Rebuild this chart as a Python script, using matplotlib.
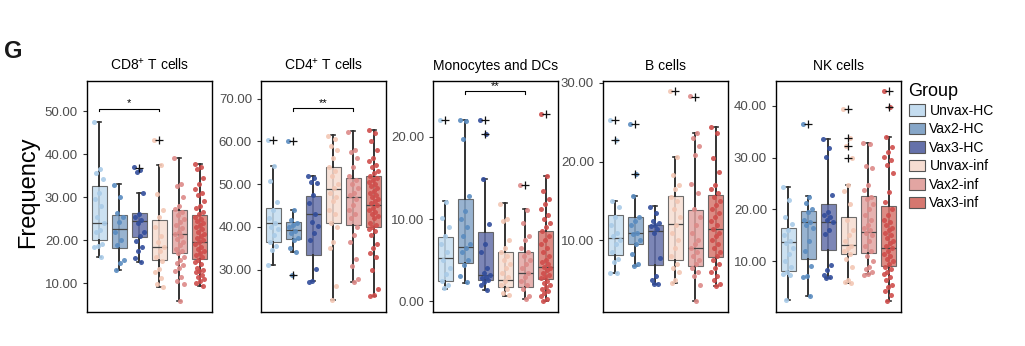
import matplotlib.pyplot as plt
import numpy as np
from matplotlib.patches import Patch

plt.rcParams['font.family'] = ['Liberation Sans', 'DejaVu Sans']

groups = ['Unvax-HC', 'Vax2-HC', 'Vax3-HC', 'Unvax-inf', 'Vax2-inf', 'Vax3-inf']
box_cols = ['#c4dcef', '#86a6c8', '#6571aa', '#f6ddd2', '#e2a5a2', '#d6776f']
dot_cols = ['#a9cbe8', '#5a8cc0', '#324d9b', '#f3c7b4', '#dd8a88', '#cf4d4b']

# box stats per group: (whislo, q1, median, q3, whishi)
cd8_box = [(16.2, 20.1, 24.1, 32.7, 47.5), (13.1, 18.1, 22.5, 25.9, 33.1),
           (15.0, 20.8, 24.4, 26.4, 31.0), (9.2, 15.4, 18.4, 24.7, 37.5),
           (5.9, 16.9, 21.4, 27.0, 39.2), (9.4, 15.7, 19.6, 25.9, 37.8)]
cd8_out = [[], [], [36.8], [43.4], [], []]
cd8_pts = [
    [47.5, 36.6, 35.5, 34.3, 30.9, 29.5, 28.0, 25.5, 24.0, 22.3, 21.8, 19.0, 18.7, 18.5, 16.2],
    [32.8, 30.0, 26.4, 25.5, 24.3, 21.8, 20.1, 18.8, 15.4, 14.8, 13.1],
    [36.9, 36.2, 35.8, 31.0, 26.0, 25.4, 24.8, 24.0, 22.0, 21.0, 19.8, 18.5, 17.5, 15.8, 15.0],
    [43.4, 37.5, 30.7, 27.0, 25.5, 23.0, 21.0, 19.5, 18.5, 17.5, 16.0, 15.2, 13.4, 12.5, 11.1, 9.7, 9.0],
    [39.0, 33.0, 32.5, 30.0, 28.0, 27.3, 26.5, 25.8, 25.0, 24.2, 23.5, 22.8, 22.0, 21.5, 21.0, 20.3,
     19.5, 18.8, 18.0, 17.5, 17.0, 16.2, 15.5, 14.8, 14.3, 13.5, 12.8, 11.5, 10.5, 9.8, 5.9],
    [37.8, 37.0, 36.5, 34.5, 33.0, 32.0, 31.0, 30.5, 29.0, 28.0, 27.5, 26.5, 26.0, 25.5, 25.0, 24.5,
     24.0, 23.5, 23.0, 22.5, 22.0, 21.5, 21.0, 20.5, 20.0, 19.5, 19.0, 18.5, 18.0, 17.5, 17.0, 16.5,
     16.0, 15.5, 15.0, 14.5, 13.5, 13.0, 12.8, 12.5, 12.0, 11.5, 11.0, 10.5, 10.0, 9.4]]

cd4_box = [(31.2, 36.5, 41.0, 44.5, 54.3), (34.2, 37.2, 39.2, 41.1, 44.0),
           (27.3, 33.4, 42.9, 47.3, 52.0), (22.8, 41.0, 48.8, 53.9, 61.4),
           (27.1, 40.4, 47.0, 51.5, 62.4), (23.8, 40.0, 45.1, 51.9, 62.7)]
cd4_out = [[60.3], [60.0, 28.8], [], [], [], []]
cd4_pts = [
    [60.3, 54.3, 50.7, 45.7, 44.0, 42.0, 41.0, 40.0, 39.5, 38.0, 36.5, 35.5, 34.5, 31.2],
    [60.0, 44.0, 41.5, 41.0, 40.5, 40.0, 39.0, 38.5, 37.5, 37.0, 35.0, 34.2, 28.8],
    [52.0, 51.5, 50.6, 50.2, 47.5, 45.5, 43.0, 41.2, 40.2, 38.5, 37.0, 30.2, 27.3, 27.2],
    [61.2, 60.5, 59.0, 58.0, 56.0, 54.0, 53.0, 52.0, 50.0, 49.0, 48.0, 47.0, 46.0, 44.0, 43.0,
     41.0, 40.0, 36.5, 35.0, 26.2, 22.8],
    [62.2, 58.0, 57.5, 56.0, 54.0, 52.0, 51.0, 50.0, 49.0, 48.0, 47.5, 46.5, 45.0, 44.0, 43.0,
     42.0, 40.0, 38.0, 36.5, 32.6, 30.8, 27.7, 27.1],
    [62.7, 62.0, 60.0, 58.0, 56.0, 55.5, 54.5, 54.0, 53.0, 52.5, 52.0, 51.5, 51.0, 50.5, 50.0,
     49.5, 49.0, 48.5, 48.0, 47.5, 47.0, 46.5, 46.0, 45.5, 45.0, 44.5, 44.0, 43.5, 43.0, 42.5,
     42.0, 41.0, 40.5, 40.0, 39.5, 39.0, 38.0, 36.0, 35.0, 34.0, 33.0, 30.0, 25.5, 24.0, 23.8]]

mono_box = [(1.5, 2.5, 5.3, 7.8, 12.2), (2.2, 4.6, 6.6, 12.4, 22.1),
            (1.4, 2.6, 3.2, 8.4, 14.9), (0.7, 1.7, 2.6, 6.0, 11.9),
            (0.3, 1.7, 3.4, 6.0, 11.2), (0.0, 2.7, 4.2, 8.6, 15.3)]
mono_out = [[22.1], [], [22.1, 20.3], [], [14.2], [22.8]]
mono_pts = [
    [22.1, 12.1, 10.1, 9.0, 8.0, 7.0, 6.0, 5.0, 4.0, 3.3, 2.5, 2.0, 1.6],
    [22.1, 21.9, 19.8, 12.8, 11.0, 10.0, 9.0, 8.0, 7.0, 6.5, 6.0, 5.0, 4.4, 3.1, 2.3],
    [22.1, 20.3, 14.9, 9.4, 7.0, 6.0, 4.0, 3.5, 3.2, 3.0, 2.8, 2.6, 2.4, 2.0, 1.4],
    [11.8, 10.0, 9.8, 7.4, 6.5, 6.0, 5.5, 5.0, 4.5, 4.0, 3.5, 3.0, 2.5, 2.0, 1.5, 1.0, 0.8],
    [14.2, 11.1, 9.5, 8.0, 7.5, 6.5, 6.0, 5.5, 5.0, 4.5, 4.0, 3.5, 3.0, 2.5, 2.0, 1.5, 0.6, 0.3],
    [22.8, 15.3, 13.4, 12.4, 11.8, 11.2, 10.5, 10.0, 9.5, 9.0, 8.5, 8.0, 7.5, 7.0, 6.5, 6.0,
     5.5, 5.0, 4.8, 4.5, 4.2, 4.0, 3.8, 3.5, 3.2, 3.0, 2.8, 2.5, 2.2, 2.0, 1.8, 1.5, 1.2, 1.0,
     0.6, 0.3, 0.0]]

bcell_box = [(5.8, 8.2, 10.3, 13.2, 15.0), (6.7, 9.5, 11.0, 13.0, 15.7),
             (4.5, 6.9, 11.2, 12.0, 14.4), (4.6, 7.5, 12.1, 15.6, 20.6),
             (2.3, 6.7, 9.0, 13.9, 23.6), (4.2, 7.9, 11.4, 15.8, 24.4)]
bcell_out = [[25.3, 22.8], [24.8, 18.4], [], [29.0], [28.2], []]
bcell_pts = [
    [25.3, 22.8, 15.0, 14.2, 13.0, 12.0, 11.0, 10.5, 10.0, 9.5, 8.5, 7.6, 7.3, 5.9, 5.8],
    [24.8, 18.4, 15.7, 13.0, 12.5, 12.0, 11.0, 10.8, 10.0, 9.5, 8.3, 7.0, 6.7],
    [14.3, 13.5, 12.5, 12.2, 12.0, 11.8, 11.5, 11.0, 7.7, 5.5, 5.0, 4.5, 4.4],
    [29.0, 20.6, 18.3, 17.0, 16.5, 15.5, 15.0, 14.0, 13.0, 12.0, 11.0, 10.0, 9.0, 8.0, 7.0,
     6.5, 6.0, 5.0, 4.6],
    [28.3, 23.6, 23.0, 22.0, 20.8, 17.1, 16.0, 14.0, 13.0, 12.0, 11.0, 10.0, 9.5, 9.0, 8.5,
     8.0, 7.5, 7.0, 6.5, 6.0, 5.5, 4.3, 2.3],
    [24.4, 23.7, 20.5, 18.7, 17.0, 16.5, 16.0, 15.5, 15.0, 14.5, 14.0, 13.5, 13.0, 12.5, 12.0,
     11.5, 11.0, 10.5, 10.0, 9.5, 9.0, 8.5, 8.0, 7.5, 7.0, 6.5, 6.0, 5.5, 5.0, 4.5, 4.2]]

nk_box = [(2.6, 8.1, 13.7, 16.5, 24.3), (3.3, 10.4, 17.6, 19.7, 22.6),
          (6.8, 12.1, 17.5, 21.1, 33.6), (5.8, 11.5, 13.1, 18.5, 24.8),
          (7.6, 11.6, 15.7, 22.6, 32.8), (2.3, 9.2, 12.5, 20.6, 33.9)]
nk_out = [[], [36.5], [], [39.3, 33.8, 32.3, 29.9], [], [42.8, 39.7]]
nk_pts = [
    [24.3, 21.8, 18.5, 17.2, 16.0, 15.0, 14.0, 13.5, 12.5, 11.5, 10.0, 9.0, 8.0, 7.5, 7.3, 2.6],
    [36.5, 22.5, 21.2, 20.0, 19.5, 18.0, 17.5, 17.0, 16.5, 14.0, 12.0, 9.2, 7.2, 7.0, 3.3],
    [33.6, 31.8, 30.2, 22.8, 19.5, 19.0, 18.5, 18.0, 17.5, 16.0, 15.2, 9.3, 8.3, 7.3, 7.0, 6.8],
    [39.3, 33.8, 32.3, 29.9, 24.8, 23.5, 21.0, 18.0, 16.0, 15.0, 14.0, 13.0, 12.5, 12.0, 11.5,
     10.5, 9.0, 6.5, 6.0, 5.8],
    [32.8, 32.6, 28.3, 28.0, 24.8, 23.7, 22.5, 22.0, 21.0, 20.0, 19.0, 18.0, 17.0, 16.5, 16.0,
     15.5, 15.0, 14.0, 13.0, 12.0, 11.0, 10.0, 9.0, 8.5, 8.0, 7.6, 7.4],
    [42.8, 39.7, 33.9, 32.0, 31.0, 30.2, 29.5, 28.5, 27.0, 23.3, 21.5, 20.0, 19.0, 18.0, 17.5,
     17.0, 16.5, 16.0, 15.5, 15.0, 14.5, 14.0, 13.5, 13.0, 12.5, 12.0, 11.5, 11.0, 10.5, 10.0,
     9.5, 9.0, 8.5, 8.0, 7.5, 7.0, 6.5, 5.5, 5.0, 4.3, 3.5, 2.3]]

titles = ['CD8$^{\\mathregular{+}}$ T cells', 'CD4$^{\\mathregular{+}}$ T cells',
          'Monocytes and DCs', 'B cells', 'NK cells']
ylims = [(3.3, 57.0), (20.1, 74.1), (-1.3, 26.8), (0.9, 30.25), (0.25, 44.75)]
yticks = [[10, 20, 30, 40, 50], [30, 40, 50, 60, 70], [0, 10, 20], [10, 20, 30], [10, 20, 30, 40]]
# significance: (group a, group b, height, label)
sigs = [(1, 4, 50.6, '*'), (2, 5, 67.7, '**'), (2, 5, 25.6, '**'), None, None]


def panel(ax, title, box, out, pts, ylim, ticks, sig):
    pos = np.arange(1, 7)
    stats = [dict(whislo=b[0], q1=b[1], med=b[2], q3=b[3], whishi=b[4], fliers=o)
             for b, o in zip(box, out)]
    for p, b in zip(pos, box):
        ax.plot([p, p], [b[1], b[3]], color='#333333', lw=1.4, zorder=1)
    bp = ax.bxp(stats, positions=pos, widths=0.75, patch_artist=True, showfliers=True,
                capwidths=0.2, zorder=2,
                whiskerprops=dict(color='#333333', lw=1.4),
                capprops=dict(color='#333333', lw=1.2),
                medianprops=dict(color='#444444', lw=0.9),
                boxprops=dict(edgecolor='#555555', lw=0.8),
                flierprops=dict(marker='+', markeredgecolor='#111111', ms=6, mew=0.9))
    for patch, c in zip(bp['boxes'], box_cols):
        patch.set_facecolor(c)
        patch.set_alpha(0.85)
    for fl in bp['fliers']:
        fl.set_zorder(5)
    for p, vals, c in zip(pos, pts, dot_cols):
        n = len(vals)
        jit = ((np.arange(n) * 0.618034) % 1 - 0.5) * 0.5
        ax.scatter(p + jit, vals, s=13, color=c, alpha=0.9, linewidths=0, zorder=4)
    if sig:
        a, b, y, lab = sig
        d = (ylim[1] - ylim[0]) * 0.012
        ax.plot([a, a, b, b], [y - d, y, y, y - d], color='black', lw=0.8)
        ax.text((a + b) / 2, y, lab, ha='center', va='bottom', fontsize=8)
    ax.set_xlim(0.4, 6.62)
    ax.set_ylim(ylim)
    ax.set_xticks([])
    ax.set_yticks(ticks)
    ax.set_yticklabels(['%.2f' % t for t in ticks])
    ax.tick_params(axis='y', labelsize=9.5, labelcolor='#4d4d4d', color='#333333', length=3)
    for s in ax.spines.values():
        s.set_linewidth(1.0)
    ax.set_title(title, fontsize=10, pad=8)


fig = plt.figure(figsize=(10.25, 3.46), dpi=100)
lefts = [87, 261, 433, 603, 776]
all_box = [cd8_box, cd4_box, mono_box, bcell_box, nk_box]
all_out = [cd8_out, cd4_out, mono_out, bcell_out, nk_out]
all_pts = [cd8_pts, cd4_pts, mono_pts, bcell_pts, nk_pts]
for i in range(5):
    ax = fig.add_axes([lefts[i] / 1025, 34 / 346, 125 / 1025, 231 / 346])
    panel(ax, titles[i], all_box[i], all_out[i], all_pts[i], ylims[i], yticks[i], sigs[i])

fig.text(0.027, 0.445, 'Frequency', rotation=90, ha='center', va='center', fontsize=17)
fig.text(0.004, 0.85, 'G', fontsize=17, fontweight='bold', ha='left', va='center', color='#1a1a1a')

handles = [Patch(facecolor=c, edgecolor='#555555', lw=0.8) for c in box_cols]
leg = fig.legend(handles, groups, loc='upper left', bbox_to_anchor=(903 / 1025, 1 - 77 / 346),
                 frameon=False, title='Group', title_fontsize=13, fontsize=10,
                 handlelength=1.2, handleheight=0.9, labelspacing=0.32, handletextpad=0.3,
                 borderaxespad=0, alignment='left')

fig.savefig('out.png', dpi=100)
